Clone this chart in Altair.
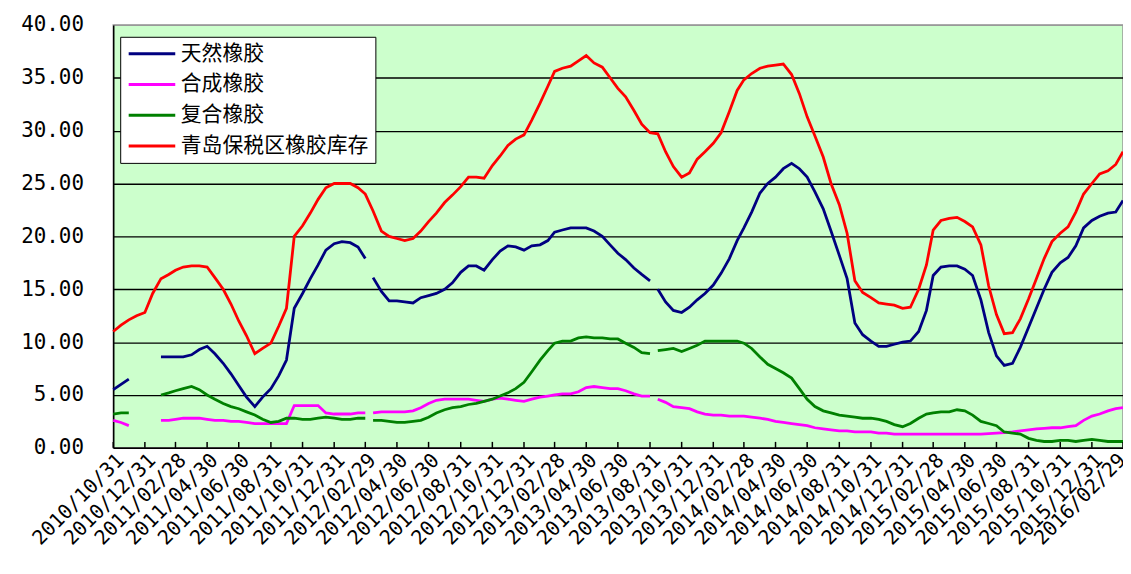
import calendar
import pandas as pd
import altair as alt

SERIES = ["天然橡胶", "合成橡胶", "复合橡胶", "青岛保税区橡胶库存"]
COLORS = ["#000080", "#FF00FF", "#008000", "#FF0000"]

# semi-monthly observation dates (15th and month end)
dates = ["2010-10-31"]
for yr in range(2010, 2017):
    for mo in range(1, 13):
        if (yr, mo) <= (2010, 10) or (yr, mo) > (2016, 2):
            continue
        dates.append(f"{yr}-{mo:02d}-15")
        dates.append(f"{yr}-{mo:02d}-{calendar.monthrange(yr, mo)[1]:02d}")

# 天然橡胶
natural = (
    [5.5, 6.0, 6.5, None, None]
    + [None, 8.6, 8.6, 8.6, 8.6, 8.8, 9.3, 9.6, 8.9, 8.0, 7.0, 5.9, 4.8, 3.9, 4.8, 5.6, 6.8, 8.3, 13.2, 14.6, 16.0, 17.3, 18.7, 19.3]
    + [19.5, 19.4, 19.0, 17.9, 16.1, 14.8, 13.9, 13.9, 13.8, 13.7, 14.2, 14.4, 14.6, 15.0, 15.6, 16.6, 17.2, 17.2, 16.8, 17.8, 18.6, 19.1, 19.0, 18.7]
    + [19.1, 19.2, 19.6, 20.4, 20.6, 20.8, 20.8, 20.8, 20.5, 20.0, 19.2, 18.4, 17.8, 17.0, 16.4, 15.8, 15.0, 13.8, 13.0, 12.8, 13.3, 14.0, 14.6, 15.4]
    + [16.5, 17.9, 19.6, 20.8, 22.3, 24.1, 25.0, 25.6, 26.4, 26.9, 26.4, 25.6, 24.2, 22.6, 20.5, 18.2, 16.0, 11.8, 10.7, 10.1, 9.6, 9.6, 9.8, 10.0]
    + [10.1, 11.0, 13.0, 16.3, 17.1, 17.2, 17.2, 16.9, 16.3, 14.0, 10.9, 8.7, 7.8, 8.0, 9.5, 11.4, 13.2, 15.0, 16.6, 17.5, 18.0, 19.1, 20.8, 21.5]
    + [21.9, 22.2, 22.3, 23.4]
)

# 合成橡胶
synthetic = (
    [2.6, 2.4, 2.1, None, None]
    + [None, 2.6, 2.6, 2.7, 2.8, 2.8, 2.8, 2.7, 2.6, 2.6, 2.5, 2.5, 2.4, 2.3, 2.3, 2.3, 2.3, 2.3, 4.0, 4.0, 4.0, 4.0, 3.3, 3.2]
    + [3.2, 3.2, 3.3, 3.3, 3.3, 3.4, 3.4, 3.4, 3.4, 3.5, 3.8, 4.2, 4.5, 4.6, 4.6, 4.6, 4.6, 4.5, 4.4, 4.6, 4.7, 4.6, 4.5, 4.4]
    + [4.6, 4.8, 4.9, 5.0, 5.1, 5.1, 5.3, 5.7, 5.8, 5.7, 5.6, 5.6, 5.4, 5.1, 4.9, 4.9, 4.6, 4.3, 3.9, 3.8, 3.7, 3.4, 3.2, 3.1]
    + [3.1, 3.0, 3.0, 3.0, 2.9, 2.8, 2.7, 2.5, 2.4, 2.3, 2.2, 2.1, 1.9, 1.8, 1.7, 1.6, 1.6, 1.5, 1.5, 1.5, 1.4, 1.4, 1.3, 1.3]
    + [1.3, 1.3, 1.3, 1.3, 1.3, 1.3, 1.3, 1.3, 1.3, 1.3, 1.35, 1.4, 1.45, 1.5, 1.6, 1.7, 1.8, 1.85, 1.9, 1.9, 2.0, 2.1, 2.6, 3.0]
    + [3.2, 3.5, 3.7, 3.8]
)

# 复合橡胶
compound = (
    [3.2, 3.3, 3.3, None, None]
    + [None, 5.0, 5.2, 5.4, 5.6, 5.8, 5.5, 5.0, 4.6, 4.2, 3.9, 3.7, 3.4, 3.1, 2.7, 2.4, 2.5, 2.8, 2.8, 2.7, 2.7, 2.8, 2.9, 2.8]
    + [2.7, 2.7, 2.8, 2.8, 2.6, 2.6, 2.5, 2.4, 2.4, 2.5, 2.6, 2.9, 3.3, 3.6, 3.8, 3.9, 4.1, 4.2, 4.4, 4.6, 4.9, 5.2, 5.6, 6.2]
    + [7.2, 8.3, 9.2, 9.9, 10.1, 10.1, 10.4, 10.5, 10.4, 10.4, 10.3, 10.3, 9.9, 9.5, 9.0, 8.9, 9.2, 9.3, 9.4, 9.1, 9.4, 9.7, 10.1, 10.1]
    + [10.1, 10.1, 10.1, 9.9, 9.4, 8.6, 7.9, 7.5, 7.1, 6.6, 5.6, 4.6, 3.9, 3.5, 3.3, 3.1, 3.0, 2.9, 2.8, 2.8, 2.7, 2.5, 2.2, 2.0]
    + [2.3, 2.8, 3.2, 3.3, 3.4, 3.4, 3.6, 3.5, 3.1, 2.5, 2.3, 2.1, 1.5, 1.4, 1.3, 0.9, 0.7, 0.6, 0.6, 0.7, 0.7, 0.6, 0.7, 0.8]
    + [0.7, 0.6, 0.6, 0.6]
)

# 青岛保税区橡胶库存
qingdao = (
    [11.0, 11.6, 12.1, 12.5, 12.8]
    + [14.6, 16.0, 16.4, 16.8, 17.1, 17.2, 17.2, 17.1, 16.1, 15.0, 13.6, 12.0, 10.6, 8.9, 9.4, 9.9, 11.5, 13.2, 20.0, 21.0, 22.2, 23.5, 24.6, 25.0]
    + [25.0, 25.0, 24.6, 24.0, 22.4, 20.5, 20.0, 19.8, 19.6, 19.8, 20.5, 21.4, 22.2, 23.2, 23.9, 24.7, 25.6, 25.6, 25.5, 26.7, 27.6, 28.6, 29.2, 29.6]
    + [31.0, 32.6, 34.2, 35.6, 35.9, 36.1, 36.6, 37.1, 36.4, 36.0, 35.0, 34.0, 33.2, 31.9, 30.6, 29.8, 29.7, 28.0, 26.6, 25.6, 26.0, 27.3, 28.0, 28.8]
    + [29.8, 31.8, 33.8, 34.8, 35.4, 35.9, 36.1, 36.2, 36.3, 35.3, 33.5, 31.3, 29.5, 27.5, 25.0, 23.0, 20.3, 15.8, 14.7, 14.2, 13.7, 13.6, 13.5, 13.2]
    + [13.3, 15.0, 17.3, 20.6, 21.5, 21.7, 21.8, 21.4, 20.9, 19.2, 15.3, 12.6, 10.8, 10.9, 12.2, 14.1, 16.0, 17.9, 19.5, 20.3, 20.9, 22.3, 24.0, 25.0]
    + [25.9, 26.2, 26.8, 28.0]
)

# dates where the first three series have a gap in the record
breaks = ["2010-12-07", "2012-03-07", "2013-09-07"]

Y_TICKS = [0, 5, 10, 15, 20, 25, 30, 35, 40]
tick_dates = [d for d in dates if int(d[8:]) > 15 and int(d[5:7]) % 2 == 0]

rows = []
for name, vals in zip(SERIES, [natural, synthetic, compound, qingdao]):
    for d, v in zip(dates, vals):
        if v is None:
            continue
        seg = 0 if name == SERIES[3] else sum(d > b for b in breaks)
        rows.append({"date": d, "value": v, "series": name, "seg": f"{name}-{seg}"})
df = pd.DataFrame(rows)
tick_df = pd.DataFrame({"date": tick_dates})

W, H = 1017, 426

def ms(d):
    return int(pd.Timestamp(d, tz="UTC").value // 10**6)

last_tick = ms(tick_dates[-1])
x_scale = alt.Scale(type="utc", domain=[ms(dates[0]), last_tick], nice=False)
x_axis = alt.Axis(
    values=[ms(d) for d in tick_dates], format="%Y/%m/%d", labelAngle=-45,
    labelFont="DejaVu Sans Mono", labelFontSize=20, labelColor="#000000",
    ticks=False, grid=False, domainColor="#000000", domainWidth=1.5,
    labelPadding=2, labelOverlap=False, labelFlush=False, labelBound=False, title=None,
    labelOffset={"condition": {"test": f"datum.value >= {last_tick}", "value": -8}, "value": 0},
)
y_axis = alt.Axis(
    values=Y_TICKS, format=".2f", labelFont="DejaVu Sans Mono", labelFontSize=21,
    labelColor="#000000", ticks=False, labelPadding=30, domainColor="#000000",
    domainWidth=1.5, gridWidth=1.3,
    gridColor={"condition": {"test": "datum.value >= 40", "value": "#999999"}, "value": "#000000"},
    title=None,
)

lines = alt.Chart(df).mark_line(strokeWidth=2.8).encode(
    x=alt.X("date:T", scale=x_scale, axis=x_axis),
    y=alt.Y("value:Q", scale=alt.Scale(domain=[0, 40], nice=False), axis=y_axis),
    color=alt.Color(
        "series:N",
        scale=alt.Scale(domain=SERIES, range=COLORS),
        legend=alt.Legend(
            orient="none", legendX=7, legendY=12, title=None,
            fillColor="white", strokeColor="black", padding=7,
            symbolType="stroke", symbolSize=2200, symbolStrokeWidth=3,
            clipHeight=20,
            labelFont="Noto Sans CJK SC", labelFontSize=21, labelColor="#000000",
            rowPadding=10, labelOffset=4, labelLimit=400,
        ),
    ),
    detail="seg:N",
)

ticks = alt.Chart(tick_df).mark_rule(color="black", strokeWidth=1.5).encode(
    x=alt.X("date:T", scale=x_scale, axis=x_axis),
    y=alt.value(H),
    y2=alt.value(H - 6),
)

chart = (
    alt.layer(lines, ticks)
    .properties(
        width=W, height=H,
        padding={"left": 106, "top": 15, "right": 0, "bottom": 117},
        autosize=alt.AutoSizeParams(type="none"),
    )
    .configure(background="white")
    .configure_view(fill="#CCFFCC", stroke="#999999", strokeWidth=1.5)
)

chart.save("out.html", embed_options={"renderer": "svg", "actions": False})
